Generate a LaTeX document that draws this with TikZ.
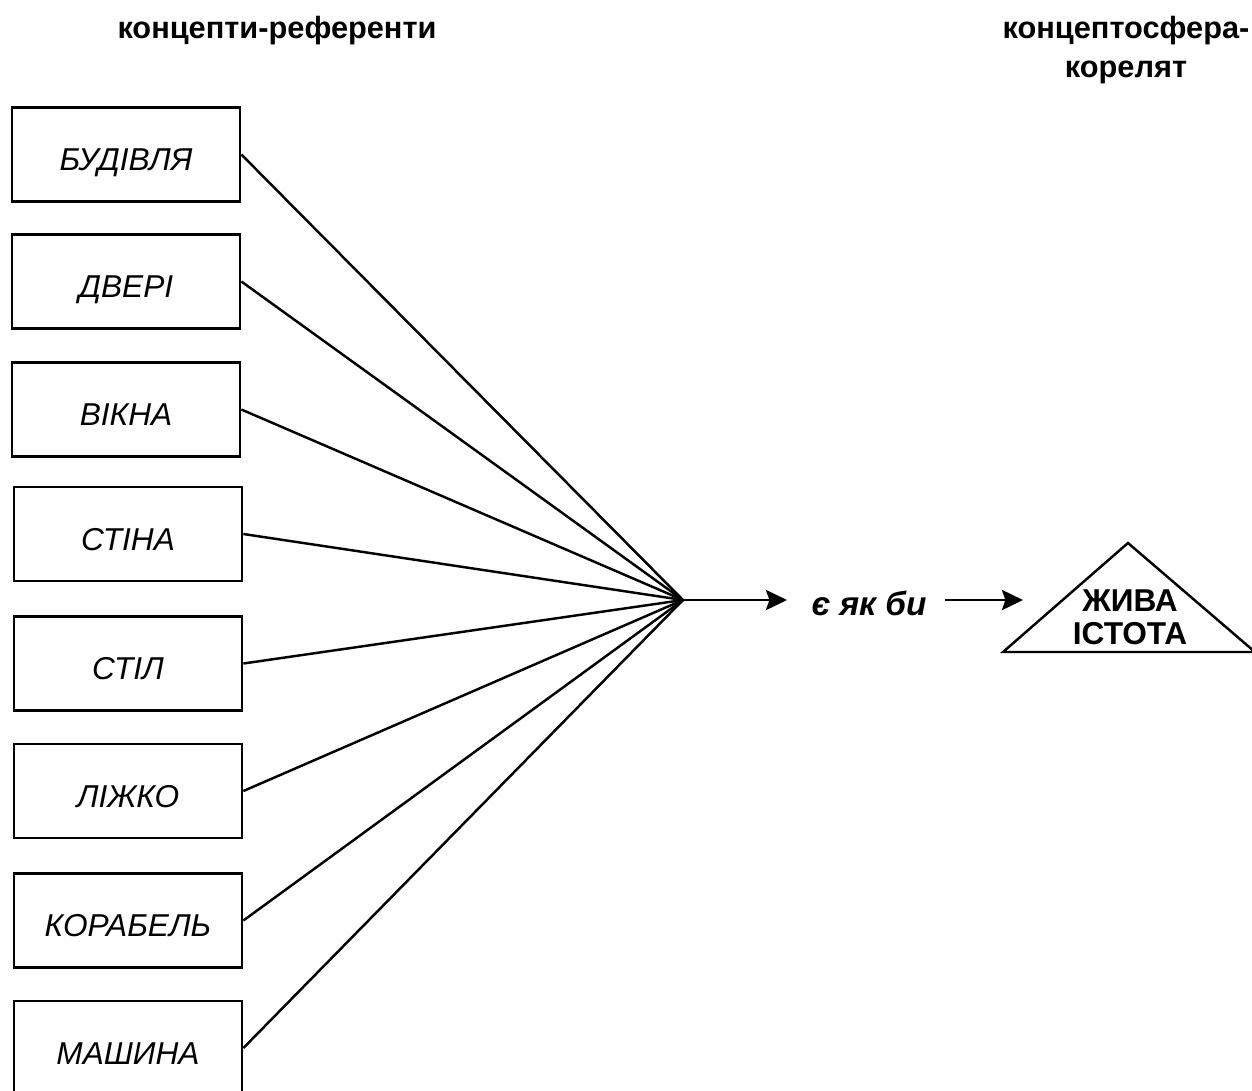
\documentclass[tikz,border=0pt]{standalone}
\usepackage{fontspec}
\setmainfont{Liberation Sans}
\usetikzlibrary{arrows.meta}
\tikzset{
  refbox/.style={draw, line width=1.6pt, minimum width=4.56cm, minimum height=1.88cm, text height=18.5pt, text depth=0pt, font=\fontsize{18}{20}\selectfont\itshape},
  title/.style={font=\fontsize{17.5}{22}\selectfont\bfseries, align=center},
  arr/.style={line width=1.4pt, -{Stealth[length=12pt, width=11.5pt, inset=2pt]}}
}
\begin{document}
\begin{tikzpicture}[x=0.02cm, y=-0.02cm]
\useasboundingbox (0,0) rectangle (1252,1090);
% titles
\node[title] (lt) at (277,31) {концепти-референти};
\node[title] (rt) at (1126,50) {концептосфера-\\корелят};
% left
\node[refbox] (b1) at (126,154.5) {БУДІВЛЯ};
\node[refbox] (b2) at (126,281.5) {ДВЕРІ};
\node[refbox] (b3) at (126,409.5) {ВІКНА};
\node[refbox] (b4) at (128,534) {СТІНА};
\node[refbox] (b5) at (128,663.5) {СТІЛ};
\node[refbox] (b6) at (128,791) {ЛІЖКО};
\node[refbox] (b7) at (128,920.5) {КОРАБЕЛЬ};
\node[refbox] (b8) at (128,1048) {МАШИНА};
\coordinate (hub) at (683,600);
\foreach \b in {b1,b2,b3,b4,b5,b6,b7,b8}
  \draw[line width=1.4pt] (\b.east) -- (hub);
% middle
\node[font=\fontsize{19}{20}\selectfont\bfseries\itshape, inner sep=0pt] (asif) at (869,603) {є як би};
\coordinate (e1) at (787,600);
\draw[arr] (hub) -- (e1);
\coordinate (tri) at (1023,600);
\draw[arr] (945,600) -- (tri);
% right
\draw[line width=1.4pt] (1003,652) -- (1128,543) -- (1255,652) -- cycle;
\node[title, font=\fontsize{18}{19}\selectfont\bfseries] (live) at (1130,617) {ЖИВА\\ІСТОТА};
\end{tikzpicture}
\end{document}
